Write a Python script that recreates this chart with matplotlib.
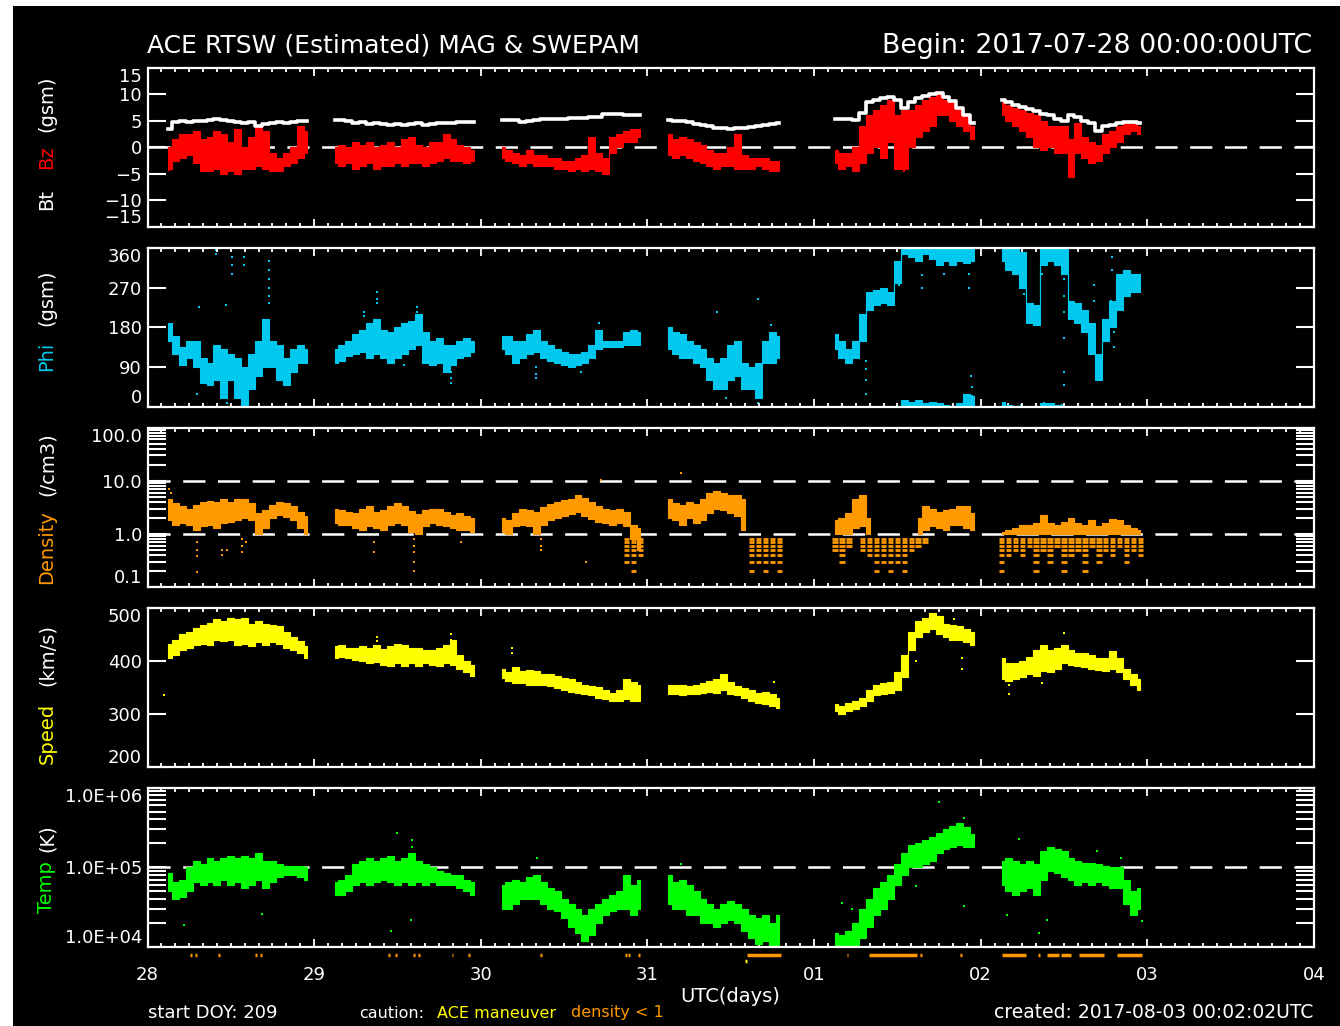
import numpy as np
import matplotlib
matplotlib.use("Agg")
import matplotlib.pyplot as plt
from matplotlib.patches import Rectangle
from matplotlib.ticker import FixedLocator, NullFormatter
import matplotlib.transforms as mtransforms

# ---------------------------------------------------------------------------
# Hourly summaries (low / high envelope of 1-min data) for each data pass.
# Passes start at 03 UT of each day; the fourth pass stops at 19 UT.
# ---------------------------------------------------------------------------
pass_day = [0, 1, 2, 3, 4, 5]
pass_first_hour = 3
pass_last_hour = [23, 23, 23, 19, 23, 23]

day_labels = ["28", "29", "30", "31", "01", "02", "03", "04"]

# Bt (nT)
bt = [
    3.5, 4.8, 4.9, 4.8, 5.0, 5.0, 5.2, 5.3, 5.1, 5.0, 4.8, 4.6, 4.7, 4.0, 4.4, 4.6, 4.7, 4.6, 4.8, 4.9, 4.9,
    5.2, 5.1, 4.9, 4.5, 4.8, 4.4, 4.5, 4.4, 4.3, 4.4, 4.3, 4.4, 4.5, 4.3, 4.4, 4.5, 4.5, 4.6, 4.8, 4.8, 4.7,
    5.1, 5.2, 5.2, 4.8, 5.0, 5.2, 5.3, 5.3, 5.4, 5.4, 5.5, 5.5, 5.6, 5.8, 5.7, 6.2, 6.2, 6.2, 6.1, 6.1, 6.0,
    5.2, 5.0, 5.0, 4.8, 4.4, 4.2, 4.0, 3.7, 3.6, 3.5, 3.6, 3.7, 3.9, 4.0, 4.2, 4.4, 4.5,
    5.3, 5.4, 5.3, 5.2, 6.5, 8.5, 9.0, 9.3, 9.5, 9.0, 7.5, 8.5, 9.3, 9.7, 10.0, 10.2, 9.5, 8.8, 7.5, 6.0, 4.5,
    9.0, 8.6, 8.0, 7.6, 7.2, 6.8, 6.3, 6.0, 5.3, 5.0, 6.0, 5.7, 5.0, 4.5, 3.0, 4.0, 4.3, 4.5, 4.8, 4.8, 4.6,
]

# Bz (nT)
bz_lo = [
    -4, -2.5, -2, -1.5, -3, -4.5, -4.5, -4, -5, -4.5, -5, -4, -4, -3.5, -4, -4.5, -4.5, -3.5, -3, -2, -1,
    -3, -3.5, -3, -4, -3.5, -3, -4, -3.5, -3.5, -3, -3.5, -3, -3, -3.5, -3, -2.5, -2, -2.5, -2.5, -3, -2.5,
    -2, -2.5, -3, -3.5, -3, -3.5, -3.5, -3.5, -4, -4, -4.5, -4, -4.5, -4, -4.5, -5, -1, 0, 1, 1, 2,
    -1.5, -2, -1.5, -2, -2.5, -3, -3.5, -4, -3.5, -3.5, -4, -4, -4, -3.5, -4, -4.5, -4.5,
    -3, -4, -3.5, -4.5, -3, -1, 0, -2, 1, -4, -4, 0, 2, 3, 4, 6, 6, 5, 4, 3, 1.5,
    6, 5, 4, 3, 2, 0, -0.5, 0, -1, -1, -5.5, -1, -2, -3, -2.5, -1, 0, 1, 2.5, 3, 2.5,
]
bz_hi = [
    0, 1.5, 2.5, 2.5, 3, 1.5, 2, 3, 2.5, 1, 3.5, 0, 2, 4, 3, -1, -2, -1, 0, 4, 3,
    0, 0.5, 0, 1, 0.5, 1, 0, 0.5, 1, 0, 1.5, 2, 0.5, 0, 1, 1, 2.5, 1.5, 0.5, 0, -0.5,
    0, -0.5, -1, -1.5, -0.5, -1.5, -1.5, -2, -2, -2.5, -2.5, -2, -1.5, 2, -1, -2, 2, 2.5, 3, 3.5, 3.5,
    2.5, 1.5, 2, 1.5, 1, 0.5, -0.5, -1, -1, 0, 2.5, -1.5, -2, -2, -2, -2.5, -2.5,
    -0.5, -1, -1, 0, 4, 6, 7, 8, 9, 6, 7, 7, 8, 9, 9.5, 10, 9, 8.5, 7.5, 6, 4,
    8.5, 8, 7.5, 7, 6.5, 6, 5, 4, 4, 4, 1.5, 4.5, 2, 1, 0.5, 2.5, 3, 4, 4.5, 4.5, 4,
]
bz_out_t = [4.26, 4.54, 4.54, 0.13, 0.14]
bz_out_v = [-4.5, -2.5, -4.5, -4.2, -3.6]

# Phi (deg, values above 360 wrap to the bottom of the panel)
phi_lo = [
    150, 120, 95, 110, 90, 55, 50, 60, 20, 60, 20, 0, 40, 70, 90, 90, 60, 50, 80, 100, 100,
    100, 105, 115, 120, 125, 110, 120, 110, 100, 110, 120, 130, 140, 100, 95, 100, 80, 95, 110, 115, 125,
    130, 120, 100, 110, 120, 125, 110, 105, 100, 95, 90, 95, 100, 110, 130, 135, 135, 135, 140, 140, 140,
    130, 120, 110, 110, 100, 90, 60, 40, 40, 60, 70, 40, 40, 20, 100, 100, 110,
    130, 110, 100, 110, 150, 220, 230, 235, 230, 280, 345, 340, 330, 345, 335, 320, 330, 320, 330, 325, 330,
    330, 310, 300, 270, 190, 185, 320, 330, 320, 300, 200, 190, 170, 120, 60, 150, 180, 220, 250, 260, 260,
]
phi_hi = [
    190, 160, 135, 150, 150, 110, 100, 140, 130, 120, 110, 90, 120, 150, 200, 150, 140, 110, 130, 140, 130,
    130, 140, 150, 165, 175, 190, 200, 175, 170, 180, 190, 195, 210, 170, 150, 155, 140, 140, 150, 155, 150,
    160, 160, 150, 150, 165, 175, 150, 140, 130, 125, 120, 120, 125, 140, 175, 150, 150, 150, 170, 175, 170,
    180, 170, 165, 150, 140, 130, 110, 100, 110, 140, 150, 100, 90, 100, 150, 170, 160,
    165, 150, 130, 150, 210, 260, 265, 270, 260, 330, 375, 372, 375, 370, 372, 368, 365, 362, 368, 390, 385,
    372, 365, 362, 350, 235, 230, 368, 370, 365, 360, 240, 235, 220, 190, 120, 200, 240, 300, 310, 300, 300,
]
phi_out_t = [0.41, 0.41, 0.505, 0.505, 0.505, 0.58, 0.58, 0.58, 0.73, 0.73, 0.73, 0.73, 0.73, 0.73,
             0.48, 0.60, 0.30, 0.47, 0.31,
             1.38, 1.38, 1.38, 1.30, 1.30, 1.62, 1.62, 1.82, 1.82, 1.82, 1.54,
             2.33, 2.33, 2.33, 2.60, 2.60, 2.71,
             3.42, 3.665, 3.665, 3.665, 3.47, 3.74, 3.74,
             4.31, 4.31, 4.31, 4.31, 4.51, 4.65, 4.65, 4.93, 4.93, 4.93, 4.94, 4.95, 4.95, 4.78,
             5.26, 5.26, 5.26, 5.37, 5.37, 5.50, 5.50, 5.50, 5.50, 5.50, 5.50,
             5.68, 5.68, 5.68, 5.68, 5.71, 5.71, 5.79, 5.79, 5.80, 5.80, 5.78, 5.24, 5.38, 5.49]
phi_out_v = [355, 345, 340, 320, 300, 360, 340, 320, 330, 310, 290, 270, 250, 235,
             10, 5, 30, 230, 225,
             260, 245, 235, 215, 205, 225, 215, 80, 65, 55, 95,
             90, 75, 65, 95, 80, 190,
             215, 245, 30, 10, 20, 185, 165,
             105, 85, 60, 30, 275, 298, 270, 328, 300, 270, 70, 45, 25, 300,
             305, 280, 255, 328, 300, 290, 250, 215, 155, 80, 50,
             275, 240, 165, 130, 95, 70, 340, 310, 170, 135, 240, 5, 10, 5]

# Proton density (/cm3): continuous band and the quantised low-density levels
n = np.nan
den_lo = [
    1.8, 1.5, 1.6, 1.5, 1.2, 1.4, 1.5, 1.3, 1.6, 1.7, 1.8, 2.0, 1.8, 1.0, 1.3, 2.0, 2.3, 2.1, 1.8, 1.3, 1.0,
    1.6, 1.5, 1.5, 1.3, 1.2, 1.4, 1.3, 1.2, 1.5, 1.6, 1.5, 1.1, 1.0, 1.4, 1.6, 1.5, 1.4, 1.3, 1.2, 1.2, 1.1,
    1.1, 1.0, 1.4, 1.5, 1.4, 1.0, 1.5, 1.8, 2.0, 2.2, 2.4, 2.6, 2.2, 1.9, 1.7, 1.6, 1.5, 1.6, 1.4, 0.8, 0.5,
    2.0, 1.8, 1.5, 2.0, 1.6, 1.8, 2.5, 3.0, 2.8, 2.5, 2.2, 1.2, n, n, n, n, n,
    1.0, 1.0, 1.0, 1.3, 1.4, 1.0, n, n, n, n, n, n, 1.0, 1.2, 1.4, 1.3, 1.2, 1.5, 1.5, 1.3, 1.2,
    1.0, 1.0, 1.0, 1.0, 1.0, 1.0, 1.0, 1.0, 1.0, 1.0, 1.0, 1.0, 1.0, 1.0, 1.0, 1.0, 1.0, 1.0, 1.0, 1.0, 1.0,
]
den_hi = [
    4.5, 3.8, 3.3, 3.0, 3.5, 4.0, 4.2, 4.0, 4.5, 4.0, 4.6, 4.5, 3.8, 2.5, 2.8, 3.5, 4.0, 3.8, 3.3, 2.6, 2.2,
    2.9, 2.8, 2.6, 2.5, 2.9, 3.3, 2.6, 2.8, 3.3, 3.8, 3.3, 2.7, 2.4, 2.8, 3.0, 2.9, 2.6, 2.3, 2.5, 2.2, 2.0,
    2.0, 1.8, 2.5, 3.0, 2.8, 2.6, 3.2, 3.6, 4.0, 4.3, 4.6, 5.3, 4.8, 4.0, 3.4, 3.0, 2.8, 2.9, 2.6, 1.5, 1.3,
    4.5, 3.8, 3.5, 4.0, 3.6, 4.5, 6.0, 6.5, 6.0, 5.5, 5.5, 4.5, n, n, n, n, n,
    1.8, 2.0, 2.5, 4.5, 5.5, 2.0, n, n, n, n, n, n, 2.0, 3.3, 3.0, 2.6, 2.8, 3.0, 3.3, 3.3, 2.5,
    1.1, 1.2, 1.3, 1.5, 1.5, 1.6, 2.3, 1.6, 1.5, 1.7, 2.0, 1.6, 1.5, 1.8, 1.4, 1.6, 1.9, 1.8, 1.5, 1.3, 1.2,
]
den_q_lo = [
    n, n, n, n, n, n, n, n, n, n, n, n, n, n, n, n, n, n, n, n, n,
    n, n, n, n, n, n, n, n, n, n, n, n, n, n, n, n, n, n, n, n, n,
    n, n, n, n, n, n, n, n, n, n, n, n, n, n, n, n, n, n, 0.3, 0.2, 0.4,
    n, n, n, n, n, n, n, n, n, n, n, n, 0.2, 0.3, 0.2, 0.3, 0.2,
    0.5, 0.3, 0.6, n, 0.5, 0.4, 0.2, 0.3, 0.2, 0.3, 0.2, 0.5, 0.6, 0.7, n, n, n, n, n, n, n,
    0.2, 0.4, 0.5, 0.4, 0.6, 0.2, 0.5, 0.3, 0.6, 0.2, 0.4, 0.5, 0.2, 0.6, 0.3, 0.5, 0.4, 0.6, 0.3, 0.5, 0.4,
]
den_q_hi = [
    n, n, n, n, n, n, n, n, n, n, n, n, n, n, n, n, n, n, n, n, n,
    n, n, n, n, n, n, n, n, n, n, n, n, n, n, n, n, n, n, n, n, n,
    n, n, n, n, n, n, n, n, n, n, n, n, n, n, n, n, n, n, 0.8, 0.8, 0.8,
    n, n, n, n, n, n, n, n, n, n, n, n, 0.8, 0.8, 0.8, 0.8, 0.8,
    0.8, 0.8, 0.8, n, 0.8, 0.8, 0.8, 0.8, 0.8, 0.8, 0.8, 0.8, 0.8, 0.8, n, n, n, n, n, n, n,
    0.8, 0.8, 0.8, 0.8, 0.8, 0.8, 0.8, 0.8, 0.8, 0.8, 0.8, 0.8, 0.8, 0.8, 0.8, 0.8, 0.8, 0.8, 0.8, 0.8, 0.8,
]
den_levels = [0.2, 0.3, 0.4, 0.5, 0.6, 0.7, 0.8]
den_out_t = [0.30, 0.30, 0.30, 0.30, 0.45, 0.45, 0.48, 0.57, 0.57, 0.57, 0.59, 0.13, 0.14,
             1.36, 1.36, 1.60, 1.60, 1.60, 1.60, 1.60, 1.88,
             2.36, 2.36, 2.36, 2.63, 2.72, 3.20]
den_out_v = [0.7, 0.5, 0.38, 0.19, 0.5, 0.4, 0.5, 0.8, 0.6, 0.45, 0.7, 7.0, 6.0,
             0.7, 0.45, 0.8, 0.6, 0.45, 0.3, 0.2, 0.7,
             0.8, 0.6, 0.5, 0.3, 10.4, 14.0]

# Bulk speed (km/s)
spd_lo = [
    405, 410, 420, 425, 430, 432, 430, 440, 438, 440, 430, 432, 428, 435, 430, 435, 432, 425, 420, 415, 405,
    405, 408, 405, 402, 400, 395, 398, 392, 390, 395, 390, 395, 390, 395, 392, 390, 395, 392, 385, 378, 372,
    368, 362, 358, 358, 355, 355, 355, 352, 348, 345, 342, 340, 338, 335, 330, 328, 325, 325, 328, 325, 325,
    338, 338, 336, 338, 337, 340, 342, 340, 345, 338, 335, 330, 325, 320, 318, 315, 312,
    305, 300, 305, 310, 315, 325, 335, 338, 340, 345, 370, 420, 445, 455, 460, 450, 445, 440, 440, 435, 430,
    365, 362, 365, 370, 375, 372, 380, 378, 385, 395, 392, 390, 388, 385, 383, 380, 385, 378, 365, 355, 345,
]
spd_hi = [
    432, 440, 450, 455, 462, 468, 472, 478, 475, 480, 478, 480, 470, 475, 470, 468, 465, 455, 445, 438, 428,
    428, 430, 425, 425, 428, 425, 430, 422, 428, 432, 430, 425, 425, 420, 420, 425, 430, 440, 410, 400, 392,
    385, 378, 388, 380, 382, 380, 375, 375, 372, 368, 365, 360, 355, 352, 350, 345, 340, 345, 365, 360, 355,
    355, 355, 355, 352, 354, 358, 362, 365, 375, 360, 352, 348, 345, 340, 342, 338, 330,
    318, 315, 320, 325, 330, 345, 355, 358, 360, 378, 410, 455, 475, 480, 490, 485, 470, 468, 465, 460, 455,
    405, 395, 395, 400, 408, 420, 430, 420, 425, 430, 420, 415, 415, 410, 405, 405, 418, 405, 385, 375, 365,
]
spd_out_t = [0.10, 1.38, 1.38, 1.82, 1.82, 2.19, 2.19, 3.76, 4.61, 4.89, 4.89, 4.84, 5.17, 5.17, 5.50, 5.37]
spd_out_v = [336, 445, 438, 450, 440, 424, 415, 361, 399, 405, 385, 478, 355, 338, 452, 358]

# Ion temperature (K)
tmp_lo = [
    5.0e4, 4.0e4, 4.2e4, 5.0e4, 6.5e4, 6.0e4, 6.5e4, 6.0e4, 7.0e4, 6.0e4, 6.5e4, 5.5e4, 6.0e4, 7.0e4, 5.5e4, 6.5e4, 7.5e4, 8.0e4, 8.0e4, 7.5e4, 7.0e4,
    4.5e4, 4.5e4, 5.0e4, 6.0e4, 6.5e4, 6.0e4, 6.5e4, 7.0e4, 6.5e4, 6.0e4, 6.5e4, 6.0e4, 6.5e4, 6.0e4, 6.5e4, 6.0e4, 6.0e4, 6.0e4, 5.5e4, 5.0e4, 4.5e4,
    3.0e4, 3.0e4, 3.5e4, 4.0e4, 4.0e4, 4.0e4, 3.5e4, 3.0e4, 2.8e4, 2.3e4, 1.8e4, 1.5e4, 1.2e4, 1.4e4, 2.0e4, 2.5e4, 2.8e4, 3.0e4, 3.0e4, 2.5e4, 3.0e4,
    3.5e4, 3.0e4, 3.0e4, 2.5e4, 2.5e4, 2.0e4, 2.0e4, 1.8e4, 2.0e4, 2.2e4, 2.0e4, 1.6e4, 1.3e4, 1.1e4, 1.2e4, 1.0e4, 1.0e4,
    8.8e3, 8.8e3, 9.0e3, 1.0e4, 1.3e4, 1.8e4, 2.5e4, 3.0e4, 4.0e4, 6.0e4, 8.0e4, 1.0e5, 1.0e5, 1.1e5, 1.2e5, 1.5e5, 1.7e5, 1.8e5, 1.9e5, 1.8e5, 1.8e5,
    6.0e4, 5.0e4, 4.5e4, 5.0e4, 5.5e4, 4.5e4, 7.0e4, 9.0e4, 8.5e4, 7.5e4, 7.0e4, 6.0e4, 6.5e4, 6.0e4, 6.5e4, 6.0e4, 5.5e4, 5.5e4, 3.5e4, 2.5e4, 3.0e4,
]
tmp_hi = [
    8.5e4, 6.5e4, 7.0e4, 1.0e5, 1.2e5, 1.1e5, 1.3e5, 1.2e5, 1.3e5, 1.4e5, 1.3e5, 1.4e5, 1.3e5, 1.5e5, 1.2e5, 1.2e5, 1.1e5, 1.05e5, 1.05e5, 1.05e5, 1.0e5,
    6.5e4, 7.0e4, 8.0e4, 1.1e5, 1.2e5, 1.3e5, 1.2e5, 1.3e5, 1.4e5, 1.2e5, 1.3e5, 1.5e5, 1.2e5, 1.1e5, 1.0e5, 9.0e4, 8.5e4, 8.0e4, 8.0e4, 7.0e4, 6.5e4,
    6.0e4, 6.5e4, 7.0e4, 6.5e4, 7.5e4, 8.0e4, 6.5e4, 5.5e4, 5.0e4, 4.0e4, 3.5e4, 3.0e4, 2.5e4, 3.0e4, 3.5e4, 4.0e4, 4.5e4, 5.0e4, 8.0e4, 6.0e4, 7.0e4,
    8.0e4, 6.5e4, 7.0e4, 6.0e4, 5.0e4, 4.0e4, 3.5e4, 3.0e4, 3.5e4, 3.8e4, 3.5e4, 3.0e4, 2.5e4, 2.3e4, 2.5e4, 2.0e4, 2.5e4,
    1.5e4, 1.4e4, 1.6e4, 2.0e4, 3.0e4, 4.0e4, 5.5e4, 6.5e4, 8.0e4, 1.1e5, 1.5e5, 1.9e5, 2.0e5, 2.2e5, 2.4e5, 2.7e5, 3.0e5, 3.3e5, 3.6e5, 3.2e5, 2.6e5,
    1.2e5, 1.3e5, 1.2e5, 1.1e5, 1.2e5, 1.1e5, 1.6e5, 1.8e5, 1.7e5, 1.6e5, 1.3e5, 1.2e5, 1.15e5, 1.15e5, 1.1e5, 1.05e5, 1.0e5, 1.0e5, 7.0e4, 5.0e4, 5.5e4,
]
tmp_out_t = [0.22, 0.69, 1.46, 1.50, 1.59, 1.59, 1.58, 2.34, 3.20, 4.75, 4.90, 4.61, 4.90, 4.17, 4.23,
             5.35, 5.40, 5.70, 5.84, 5.97, 5.16, 5.23]
tmp_out_v = [1.9e4, 2.6e4, 1.6e4, 2.7e5, 2.2e5, 1.8e5, 2.2e4, 1.3e5, 1.1e5, 6.7e5, 4.2e5, 5.8e4, 3.3e4, 3.6e4, 3.0e4,
             1.5e4, 2.2e4, 1.6e5, 1.3e5, 2.1e4, 2.5e4, 2.3e5]

# Caution flags along the time axis (start, end in days)
lowden_start = [0.255, 0.285, 0.425, 0.645, 0.675, 1.445, 1.485, 1.595, 1.625, 1.825, 1.925, 2.355, 2.865, 2.885, 2.945,
                3.60, 4.195, 4.33, 4.635, 4.875, 5.13, 5.345, 5.40, 5.48, 5.59, 5.82]
lowden_end = [0.265, 0.295, 0.435, 0.655, 0.685, 1.455, 1.495, 1.605, 1.635, 1.835, 1.935, 2.365, 2.875, 2.895, 2.955,
              3.80, 4.205, 4.62, 4.645, 4.885, 5.27, 5.355, 5.47, 5.54, 5.74, 5.97]
maneuver_start = [3.585]
maneuver_end = [3.595]

# ---------------------------------------------------------------------------
W, H = 1340, 1026
C_WHITE = "#ffffff"
C_BZ = "#ff0000"
C_PHI = "#00c8ee"
C_DEN = "#ff9900"
C_SPD = "#ffff00"
C_TMP = "#00ff00"

plt.rcParams["font.family"] = ["DejaVu Sans"]
plt.rcParams["lines.scale_dashes"] = False

# sample times in days since 28 Jul 00 UT
t_pass = [d + np.arange(pass_first_hour, last + 1) / 24.0 for d, last in zip(pass_day, pass_last_hour)]
pass_len = [len(tp) for tp in t_pass]
bounds = np.concatenate([[0], np.cumsum(pass_len)])
t_all = np.concatenate(t_pass)


def passes(values):
    v = np.asarray(values, dtype=float)
    for k in range(len(t_pass)):
        yield t_pass[k], v[bounds[k]:bounds[k + 1]]


def band(ax, lo_vals, hi_vals, color, shifts=(0,), z=2):
    for (tp, lo), (_, hi) in zip(passes(lo_vals), passes(hi_vals)):
        for s in shifts:
            ax.fill_between(tp, lo - s, hi - s, step="mid", color=color, lw=0.8,
                            edgecolor=color, zorder=z)


fig = plt.figure(figsize=(W / 100, H / 100), dpi=100, facecolor="white")
fig.patches.append(Rectangle((13 / W, 0), 1, 1 - 6 / H, transform=fig.transFigure,
                             facecolor="black", edgecolor="none", zorder=-10))

left_px, right_px, h_px = 147.5, 1314.0, 159.3
tops = [67.7, 247.7, 427.7, 607.7, 787.7]
axes = []
for top in tops:
    ax = fig.add_axes([left_px / W, 1 - (top + h_px) / H, (right_px - left_px) / W, h_px / H])
    ax.set_facecolor("black")
    for sp in ax.spines.values():
        sp.set_color(C_WHITE)
        sp.set_linewidth(1.6)
    ax.set_xlim(0, 7)
    ax.xaxis.set_major_locator(FixedLocator(np.arange(0, 8)))
    ax.xaxis.set_minor_locator(FixedLocator(np.arange(0, 7.001, 2 / 24)))
    ax.tick_params(axis="x", which="both", direction="in", top=True, bottom=True,
                   color=C_WHITE, width=1.3, labelbottom=False)
    ax.tick_params(axis="x", which="major", length=6)
    ax.tick_params(axis="x", which="minor", length=3)
    ax.tick_params(axis="y", which="both", direction="in", left=True, right=True,
                   color=C_WHITE, width=1.5, length=13, labelcolor=C_WHITE,
                   labelsize=13, pad=4)
    axes.append(ax)

dash = (0, (16, 9))


def edge_align(ax):
    labels = ax.get_yticklabels()
    labels[0].set_verticalalignment("bottom")
    labels[-1].set_verticalalignment("top")


# --- panel 1: Bt / Bz
ax = axes[0]
ax.set_ylim(-15, 15)
ax.set_yticks([-15, -10, -5, 0, 5, 10, 15])
ax.set_yticklabels(["\u221215", "\u221210", "\u22125", "0", "5", "10", "15"])
ax.axhline(0, color=C_WHITE, lw=1.8, ls=dash, zorder=1)
band(ax, bz_lo, bz_hi, C_BZ)
ax.scatter(bz_out_t, bz_out_v, s=4, color=C_BZ, marker="s", lw=0, zorder=2)
for tp, v in passes(bt):
    ax.plot(tp, v, color=C_WHITE, lw=2.6, zorder=3, drawstyle="steps-mid")
edge_align(ax)

# --- panel 2: Phi
ax = axes[1]
ax.set_ylim(0, 360)
ax.set_yticks([0, 90, 180, 270, 360])
ax.set_yticklabels(["0", "90", "180", "270", "360"])
band(ax, phi_lo, phi_hi, C_PHI, shifts=(0, 360))
ax.scatter(phi_out_t, phi_out_v, s=4, color=C_PHI, marker="s", lw=0)
edge_align(ax)

# --- panel 3: density
ax = axes[2]
ax.set_yscale("log")
ax.set_ylim(0.1, 100)
ax.yaxis.set_major_locator(FixedLocator([0.1, 1, 10, 100]))
ax.yaxis.set_minor_locator(FixedLocator([m * 10.0 ** e for e in (-1, 0, 1) for m in range(2, 10)]))
ax.yaxis.set_minor_formatter(NullFormatter())
ax.set_yticklabels(["0.1", "1.0", "10.0", "100.0"])
ax.axhline(10, color=C_WHITE, lw=1.8, ls=dash, zorder=1)
ax.axhline(1, color=C_WHITE, lw=1.8, ls=dash, zorder=1)
band(ax, den_lo, den_hi, C_DEN)
half = 0.40 / 24
for ti, qlo, qhi in zip(t_all, den_q_lo, den_q_hi):
    if np.isfinite(qlo):
        lev = [v for v in den_levels if qlo - 1e-9 <= v <= qhi + 1e-9]
        ax.hlines(lev, ti - half, ti + half, color=C_DEN, lw=2.0, zorder=2)
ax.scatter(den_out_t, den_out_v, s=4, color=C_DEN, marker="s", lw=0, zorder=2)
edge_align(ax)

# --- panel 4: speed
ax = axes[3]
ax.set_ylim(200, 500)
ax.set_yticks([200, 300, 400, 500])
ax.set_yticklabels(["200", "300", "400", "500"])
band(ax, spd_lo, spd_hi, C_SPD)
ax.scatter(spd_out_t, spd_out_v, s=4, color=C_SPD, marker="s", lw=0)
edge_align(ax)

# --- panel 5: temperature
ax = axes[4]
ax.set_yscale("log")
ax.set_ylim(1e4, 1e6)
ax.yaxis.set_major_locator(FixedLocator([1e4, 1e5, 1e6]))
ax.yaxis.set_minor_locator(FixedLocator([m * 10.0 ** e for e in (4, 5) for m in range(2, 10)]))
ax.yaxis.set_minor_formatter(NullFormatter())
ax.set_yticklabels(["1.0E+04", "1.0E+05", "1.0E+06"])
ax.axhline(1e5, color=C_WHITE, lw=1.8, ls=dash, zorder=1)
band(ax, tmp_lo, tmp_hi, C_TMP)
ax.scatter(tmp_out_t, tmp_out_v, s=4, color=C_TMP, marker="s", lw=0, zorder=2)
edge_align(ax)
ax.tick_params(axis="x", which="major", labelbottom=True, labelcolor=C_WHITE, labelsize=13, pad=14)
ax.set_xticks(np.arange(0, 8))
ax.set_xticklabels(day_labels)

# caution flags just below the bottom panel
flag_tr = mtransforms.blended_transform_factory(ax.transData, ax.transAxes)
ax.hlines([-0.05] * len(lowden_start), lowden_start, lowden_end, color=C_DEN, lw=2.5,
          transform=flag_tr, clip_on=False)
ax.hlines([-0.085] * len(maneuver_start), maneuver_start, maneuver_end, color=C_SPD, lw=2.5,
          transform=flag_tr, clip_on=False)


# --- y-axis titles (rotated, multi-coloured)
def ylab(parts):
    for text, color, yc in parts:
        fig.text(47 / W, 1 - yc / H, text, color=color, rotation=90, ha="center",
                 va="center", fontsize=14)


ylab([("Bt", C_WHITE, 200), ("Bz", C_BZ, 157), ("(gsm)", C_WHITE, 104)])
ylab([("Phi", C_PHI, 356), ("(gsm)", C_WHITE, 298)])
ylab([("Density", C_DEN, 547), ("(/cm3)", C_WHITE, 464)])
ylab([("Speed", C_SPD, 733), ("(km/s)", C_WHITE, 655)])
ylab([("Temp", C_TMP, 887), ("(K)", C_WHITE, 838)])

# --- titles and footer
fig.text(147 / W, 1 - 46 / H, "ACE RTSW (Estimated) MAG & SWEPAM", color=C_WHITE,
         fontsize=18, ha="left", va="center")
fig.text(1312 / W, 1 - 46 / H, "Begin: 2017-07-28 00:00:00UTC", color=C_WHITE,
         fontsize=19.3, ha="right", va="center")
fig.text(730 / W, 1 - 997 / H, "UTC(days)", color=C_WHITE, fontsize=14, ha="center", va="center")
fig.text(148 / W, 1 - 1013 / H, "start DOY: 209", color=C_WHITE, fontsize=13, ha="left", va="center")
fig.text(359 / W, 1 - 1013 / H, "caution:", color=C_WHITE, fontsize=11.5, ha="left", va="center")
fig.text(437 / W, 1 - 1013 / H, "ACE maneuver", color=C_SPD, fontsize=11.5, ha="left", va="center")
fig.text(571 / W, 1 - 1013 / H, "density < 1", color=C_DEN, fontsize=11.5, ha="left", va="center")
fig.text(1313 / W, 1 - 1013 / H, "created: 2017-08-03 00:02:02UTC", color=C_WHITE,
         fontsize=13.5, ha="right", va="center")

fig.savefig("out.png", dpi=100, facecolor=fig.get_facecolor())
